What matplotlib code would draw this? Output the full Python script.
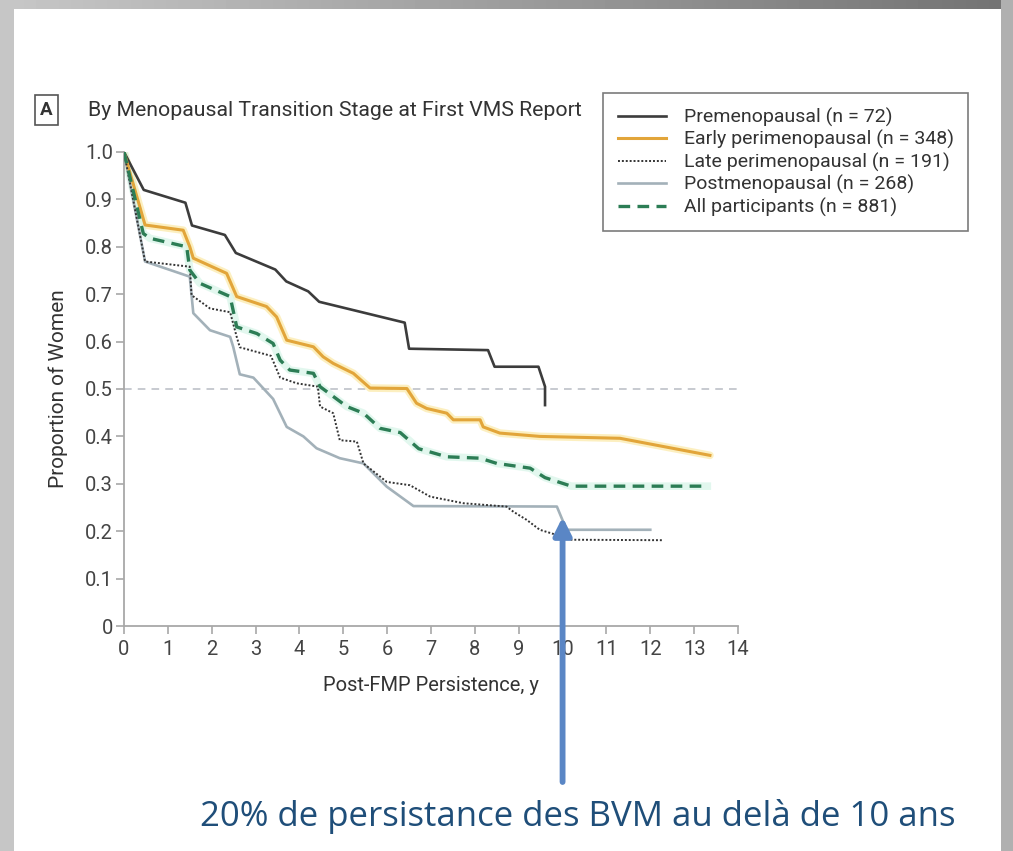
import matplotlib
matplotlib.use("Agg")
import matplotlib.pyplot as plt
import numpy as np
from matplotlib.patches import Rectangle

# ---------------- data ----------------
pre_x = [0, 0.45, 1.4, 1.55, 2.3, 2.55, 3.45, 3.7, 4.2, 4.45, 6.4, 6.5, 8.3, 8.45, 9.45, 9.6, 9.6]
pre_y = [1.0, 0.92, 0.893, 0.845, 0.825, 0.787, 0.752, 0.727, 0.706, 0.684, 0.64, 0.585, 0.582, 0.547, 0.547, 0.505, 0.466]

early_x = [0, 0.48, 1.35, 1.5, 1.58, 2.34, 2.57, 3.25, 3.48, 3.71, 4.32, 4.54, 4.77, 5.23, 5.61, 6.45, 6.67, 6.9, 7.36, 7.51, 8.12, 8.19, 8.57, 9.48, 11.31, 13.36]
early_y = [1.0, 0.846, 0.835, 0.80, 0.776, 0.744, 0.695, 0.674, 0.652, 0.603, 0.589, 0.568, 0.554, 0.533, 0.502, 0.501, 0.47, 0.459, 0.449, 0.435, 0.435, 0.42, 0.407, 0.40, 0.396, 0.36]

late_x = [0, 0.48, 1.5, 1.54, 1.96, 2.42, 2.57, 2.64, 3.35, 3.56, 3.94, 4.42, 4.47, 4.77, 4.92, 5.31, 5.46, 5.99, 6.52, 6.98, 7.74, 8.72, 8.88, 9.18, 9.48, 9.87, 10.2, 12.3]
late_y = [1.0, 0.769, 0.758, 0.698, 0.67, 0.662, 0.61, 0.588, 0.570, 0.524, 0.512, 0.505, 0.463, 0.449, 0.392, 0.389, 0.343, 0.304, 0.297, 0.273, 0.259, 0.252, 0.241, 0.224, 0.203, 0.192, 0.182, 0.181]

post_x = [0, 0.48, 1.5, 1.58, 1.96, 2.42, 2.49, 2.64, 2.95, 3.4, 3.71, 4.09, 4.39, 4.92, 5.46, 5.99, 6.6, 9.87, 10.09, 12.0]
post_y = [1.0, 0.769, 0.737, 0.66, 0.624, 0.61, 0.589, 0.531, 0.524, 0.479, 0.42, 0.40, 0.375, 0.354, 0.343, 0.294, 0.253, 0.252, 0.203, 0.203]

all_x = [0, 0.44, 0.59, 1.43, 1.5, 1.73, 2.42, 2.57, 3.03, 3.4, 3.56, 3.78, 4.32, 4.47, 5.08, 5.46, 5.84, 6.3, 6.72, 7.36, 8.12, 8.5, 9.26, 9.6, 10.2, 13.3]
all_y = [1.0, 0.828, 0.818, 0.80, 0.751, 0.723, 0.695, 0.631, 0.617, 0.596, 0.561, 0.54, 0.533, 0.505, 0.463, 0.449, 0.417, 0.408, 0.374, 0.357, 0.354, 0.343, 0.333, 0.313, 0.295, 0.295]

labels = ["Premenopausal (n = 72)", "Early perimenopausal (n = 348)",
          "Late perimenopausal (n = 191)", "Postmenopausal (n = 268)",
          "All participants (n = 881)"]

x_ticks = list(range(0, 15))
y_ticks = [0, 0.1, 0.2, 0.3, 0.4, 0.5, 0.6, 0.7, 0.8, 0.9, 1.0]
y_tick_labels = ["0", "0.1", "0.2", "0.3", "0.4", "0.5", "0.6", "0.7", "0.8", "0.9", "1.0"]

ref_level = 0.5
arrow_x = 10
arrow_tip_y = 0.23

title = "By Menopausal Transition Stage at First VMS Report"
panel = "A"
x_label = "Post-FMP Persistence, y"
y_label = "Proportion of Women"
note = "20% de persistance des BVM au delà de 10 ans"

# ---------------- figure ----------------
W, H = 1013, 851
fig = plt.figure(figsize=(W / 100, H / 100), dpi=100)
fig.patch.set_facecolor("white")

chart_font = ["Roboto", "DejaVu Sans"]

# gray frame bands
bg = fig.add_axes([0, 0, 1, 1], zorder=-10)
bg.axis("off")
grad = np.linspace(0.78, 0.45, 256).reshape(1, -1)
bg.imshow(grad, extent=(0, W, 9, 0), cmap="gray", vmin=0, vmax=1, aspect="auto")
bg.add_patch(Rectangle((0, 0), 14, H, color="#c6c6c6", lw=0))
bg.add_patch(Rectangle((1001, 0), 12, H, color="#b0b0b0", lw=0))
bg.set_xlim(0, W)
bg.set_ylim(H, 0)

ax = fig.add_axes([124 / W, 1 - 626 / H, (738 - 124) / W, (626 - 152) / H])
ax.set_xlim(0, 14)
ax.set_ylim(0, 1.0)
ax.patch.set_alpha(0)

ax.axhline(ref_level, color="#b8bcc4", lw=1.1, ls=(0, (5, 4)), zorder=1)

# soft halos
ax.plot(early_x, early_y, color="#fbe9a6", lw=5.5, alpha=0.7, zorder=2, solid_capstyle="round")
ax.plot(all_x, all_y, color="#d6f5e8", lw=5.5, alpha=0.7, zorder=2)

ax.plot(pre_x, pre_y, color="#3c3c3c", lw=1.9, zorder=4, label=labels[0])
ax.plot(early_x, early_y, color="#e2a53a", lw=2.2, zorder=4, label=labels[1])
ax.plot(late_x, late_y, color="#333333", lw=1.4, ls=(0, (1, 1)), zorder=5, label=labels[2])
ax.plot(post_x, post_y, color="#a3b1b9", lw=1.9, zorder=3, label=labels[3])
ax.plot(all_x, all_y, color="#2c7d55", lw=2.4, ls=(0, (3.5, 2.2)), zorder=5, label=labels[4])

for s in ["top", "right"]:
    ax.spines[s].set_visible(False)
for s in ["left", "bottom"]:
    ax.spines[s].set_color("#a8a8a8")
    ax.spines[s].set_linewidth(1.3)

ax.set_xticks(x_ticks)
ax.set_yticks(y_ticks)
ax.set_yticklabels(y_tick_labels)
ax.tick_params(axis="both", colors="#a8a8a8", length=6, width=1.2, labelcolor="#444444",
               labelsize=14.5)
for lab in ax.get_xticklabels() + ax.get_yticklabels():
    lab.set_family(chart_font)
ax.tick_params(axis="x", pad=4)
ax.tick_params(axis="y", pad=2)

ax.set_xlabel(x_label, fontsize=14.5, color="#333333", family=chart_font, labelpad=12)
ax.set_ylabel(y_label, fontsize=15, color="#333333", family=chart_font, labelpad=12)

leg = ax.legend(loc="upper left", bbox_to_anchor=(603 / W, 1 - 93 / H),
                bbox_transform=fig.transFigure, frameon=True, fancybox=False,
                prop={"family": chart_font, "size": 14}, handlelength=2.5,
                borderpad=0.75, labelspacing=0.17, handletextpad=0.9,
                borderaxespad=0)
leg.get_frame().set_edgecolor("#5a5a5a")
leg.get_frame().set_linewidth(1.2)
for t in leg.get_texts():
    t.set_color("#333333")

fig.text(88 / W, 1 - 110 / H, title, fontsize=15.3, color="#333333", family=chart_font,
         va="center", ha="left")
fig.text(46.5 / W, 1 - 110 / H, panel, fontsize=13.5, color="#333333", family=chart_font,
         weight="bold", va="center", ha="center",
         bbox=dict(boxstyle="square,pad=0.3", fc="white", ec="#555555", lw=1.2))

ax.annotate("", xy=(arrow_x, arrow_tip_y), xycoords="data",
            xytext=(arrow_x, H - 782), textcoords=("data", "figure pixels"),
            arrowprops=dict(arrowstyle="-|>", color="#5a86c5", lw=4.2, mutation_scale=26,
                            shrinkA=0, shrinkB=0),
            annotation_clip=False, zorder=6)

fig.text(578 / W, 1 - 816 / H, note, fontsize=25, color="#1f4e79",
         family=["Open Sans", "DejaVu Sans"], ha="center", va="center")

fig.savefig("out.png", dpi=100)
